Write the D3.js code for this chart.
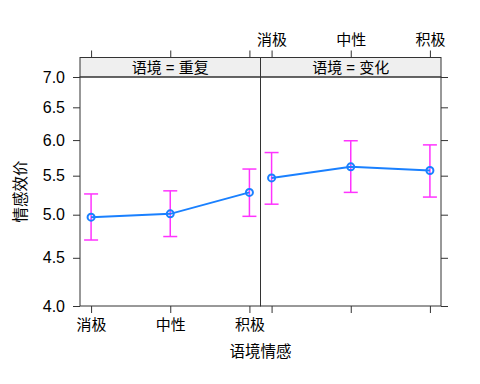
<!DOCTYPE html>
<html>
<head>
<meta charset="utf-8">
<script src="https://cdn.jsdelivr.net/npm/d3@7"></script>
<style>
  body { margin: 0; background: #fff; }
  text { fill: #000; }
</style>
</head>
<body>
<div id="chart"></div>
<script>
// data
var emotions = ["消极", "中性", "积极"];
var contexts = ["重复", "变化"];
var fitRepeat = [4.97, 5.01, 5.28];
var lowerRepeat = [4.70, 4.74, 4.98];
var upperRepeat = [5.26, 5.30, 5.59];
var fitChange = [5.47, 5.62, 5.57];
var lowerChange = [5.13, 5.28, 5.22];
var upperChange = [5.82, 5.99, 5.93];
var yTicks = [4.0, 4.5, 5.0, 5.5, 6.0, 6.5, 7.0];

var panels = [
  {ctx: contexts[0], fit: fitRepeat, lo: lowerRepeat, hi: upperRepeat},
  {ctx: contexts[1], fit: fitChange, lo: lowerChange, hi: upperChange}
];

var W = 480, H = 384;
var plotLeft = 80, panelW = 180.5, plotTop = 77, plotBottom = 306, stripH = 19.5;
var cjk = "'Noto Sans CJK SC', sans-serif";
var latin = "'Liberation Sans', Arial, sans-serif";
var lineCol = "#1a80ff", barCol = "#ff33ff", frameCol = "#333";

var svg = d3.select("#chart").append("svg")
  .attr("width", W).attr("height", H);

var y = d3.scaleLog().domain([4, 7]).range([plotBottom, plotTop]);

panels.forEach(function(p, i) {
  var x0 = plotLeft + i * panelW;
  var x = d3.scalePoint().domain(emotions).range([x0, x0 + panelW]).padding(0.14);
  var g = svg.append("g");

  // strip
  g.append("rect")
    .attr("x", x0).attr("y", plotTop - stripH)
    .attr("width", panelW).attr("height", stripH)
    .attr("fill", "#efefef").attr("stroke", frameCol).attr("stroke-width", 1);
  g.append("text")
    .attr("x", x0 + panelW / 2).attr("y", plotTop - stripH / 2)
    .attr("dy", "0.36em").attr("text-anchor", "middle")
    .style("font-family", "'Liberation Sans', 'Noto Sans CJK SC', sans-serif").style("font-size", "15px")
    .text("语境 = " + p.ctx);

  // x axes: labels below on first panel, above on second
  var bAxis = d3.axisBottom(x).tickSize(7).tickPadding(6);
  var tAxis = d3.axisTop(x).tickSize(7).tickPadding(6);
  if (i == 1) bAxis.tickFormat("");
  if (i == 0) tAxis.tickFormat("");
  var ab = g.append("g").attr("transform", "translate(0," + plotBottom + ")").call(bAxis);
  var at = g.append("g").attr("transform", "translate(0," + (plotTop - stripH) + ")").call(tAxis);
  [ab, at].forEach(function(a) {
    a.select(".domain").remove();
    a.selectAll("line").attr("stroke", frameCol);
    a.selectAll("text").style("font-family", cjk).style("font-size", "15px").attr("fill", "#000");
  });

  // error bars
  var bars = g.selectAll(".bar").data(emotions).enter().append("g").attr("class", "bar");
  bars.append("line")
    .attr("x1", function(d) { return x(d); }).attr("x2", function(d) { return x(d); })
    .attr("y1", function(d, j) { return y(p.lo[j]); })
    .attr("y2", function(d, j) { return y(p.hi[j]); });
  bars.append("line")
    .attr("x1", function(d) { return x(d) - 7; }).attr("x2", function(d) { return x(d) + 7; })
    .attr("y1", function(d, j) { return y(p.lo[j]); })
    .attr("y2", function(d, j) { return y(p.lo[j]); });
  bars.append("line")
    .attr("x1", function(d) { return x(d) - 7; }).attr("x2", function(d) { return x(d) + 7; })
    .attr("y1", function(d, j) { return y(p.hi[j]); })
    .attr("y2", function(d, j) { return y(p.hi[j]); });
  bars.selectAll("line").attr("stroke", barCol).attr("stroke-width", 1.5);

  // fitted line and points
  var line = d3.line()
    .x(function(d, j) { return x(emotions[j]); })
    .y(function(d) { return y(d); });
  g.append("path").datum(p.fit)
    .attr("d", line).attr("fill", "none")
    .attr("stroke", lineCol).attr("stroke-width", 2);
  g.selectAll(".pt").data(p.fit).enter().append("circle")
    .attr("cx", function(d, j) { return x(emotions[j]); })
    .attr("cy", function(d) { return y(d); })
    .attr("r", 3.5).attr("fill", "none")
    .attr("stroke", lineCol).attr("stroke-width", 2);

  // panel frame
  g.append("rect")
    .attr("x", x0).attr("y", plotTop)
    .attr("width", panelW).attr("height", plotBottom - plotTop)
    .attr("fill", "none").attr("stroke", frameCol).attr("stroke-width", 1);
});

// y axes: labels left, ticks only on the right
var yl = svg.append("g").attr("transform", "translate(" + plotLeft + ",0)")
  .call(d3.axisLeft(y).tickValues(yTicks).tickFormat(d3.format(".1f")).tickSize(7).tickPadding(8));
var yr = svg.append("g").attr("transform", "translate(" + (plotLeft + 2 * panelW) + ",0)")
  .call(d3.axisRight(y).tickValues(yTicks).tickFormat("").tickSize(7));
[yl, yr].forEach(function(a) {
  a.select(".domain").remove();
  a.selectAll("line").attr("stroke", frameCol);
  a.selectAll("text").style("font-family", latin).style("font-size", "16px").attr("fill", "#000");
});

// axis titles
svg.append("text")
  .attr("x", plotLeft + panelW).attr("y", 351).attr("dy", "0.36em")
  .attr("text-anchor", "middle")
  .style("font-family", cjk).style("font-size", "15.5px")
  .text("语境情感");
svg.append("text")
  .attr("transform", "translate(20," + ((plotTop + plotBottom) / 2) + ") rotate(-90)")
  .attr("dy", "0.36em").attr("text-anchor", "middle")
  .style("font-family", cjk).style("font-size", "15.5px")
  .text("情感效价");
</script>
</body>
</html>
